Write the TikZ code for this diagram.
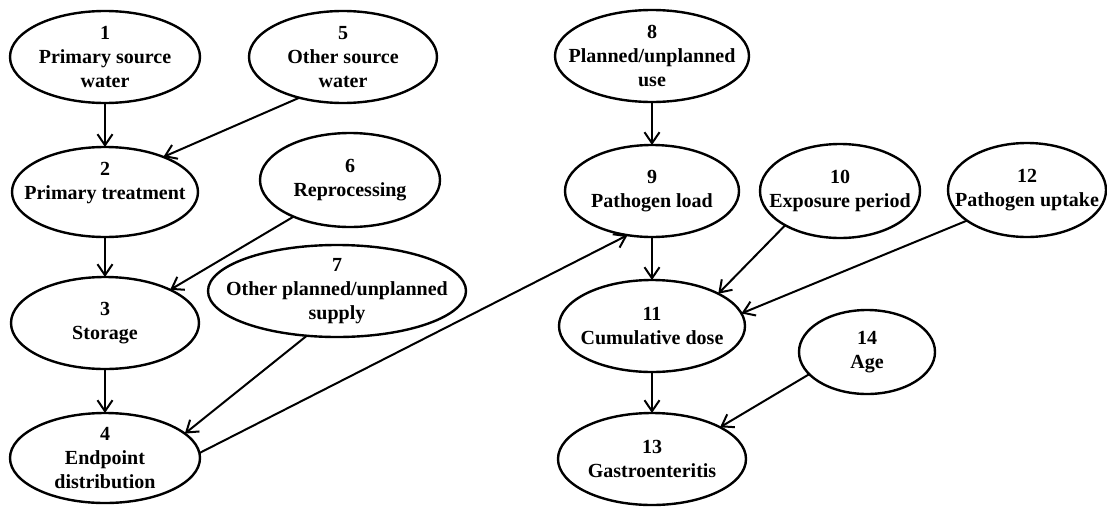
\documentclass[tikz,border=0pt]{standalone}
\usepackage{fontspec}
\setmainfont{Liberation Serif}
\usetikzlibrary{shapes.geometric,arrows.meta}

% one factor of the network: an outlined ellipse with its caption set on top
\newcommand\factornode[6]{%
  \node[factor, minimum width=#4pt, minimum height=#5pt] (#1) at (#2,#3) {};
  \node[caption] (#1-text) at (#1.center) {#6};
}

\begin{document}
\begin{tikzpicture}[x=1pt,y=-1pt,
  factor/.style={ellipse, draw, line width=2.4pt, inner sep=0pt, outer sep=0pt},
  caption/.style={font=\bfseries\fontsize{20}{24}\selectfont, align=center, inner sep=0pt},
  link/.style={line width=2pt, -{Straight Barb[length=11pt,width=15pt]}}]

\useasboundingbox (0,0) rectangle (1107,506);

% supply chain
\factornode{n1}{105}{57}{190}{92}{1\\Primary source\\water}
\factornode{n5}{343}{57}{188}{92}{5\\Other source\\water}
\node[factor, minimum width=186pt, minimum height=90pt] (n2) at (105,192) {};
\node[caption] (n2-text) at (105,183) {2\\Primary treatment};
\factornode{n6}{350}{180}{180}{94}{6\\Reprocessing}
\factornode{n3}{105}{323}{188}{92}{3\\Storage}
\factornode{n7}{337}{291}{258}{92}{7\\Other planned/unplanned\\supply}
\factornode{n4}{105}{458}{190}{90}{4\\Endpoint\\distribution}

% exposure and health outcome
\factornode{n8}{652}{56}{194}{92}{8\\Planned/unplanned\\use}
\factornode{n9}{652}{191}{174}{92}{9\\Pathogen load}
\factornode{n10}{840}{191}{160}{94}{10\\Exposure period}
\factornode{n12}{1027}{190}{158}{94}{12\\Pathogen uptake}
\factornode{n11}{652}{326}{186}{92}{11\\Cumulative dose}
\factornode{n14}{867}{352}{136}{84}{14\\Age}
\factornode{n13}{652}{459}{188}{92}{13\\Gastroenteritis}

% dependencies
\draw[link] (n1.south) -- (n2.north);
\draw[link] (n5.223) -- (n2.31);
\draw[link] (n2.south) -- (n3.north);
\draw[link] (n6.213) -- (n3.27);
\draw[link] (n3.south) -- (n4.north);
\draw[link] (n7.236) -- (n4.17);
\draw[link] (n4.3) -- (n9.241);
\draw[link] (n8.south) -- (n9.north);
\draw[link] (n9.south) -- (n11.north);
\draw[link] (n10.212) -- (n11.26);
\draw[link] (n12.207) -- (n11.8);
\draw[link] (n11.south) -- (n13.north);
\draw[link] (n14.201) -- (n13.25);
\end{tikzpicture}
\end{document}
